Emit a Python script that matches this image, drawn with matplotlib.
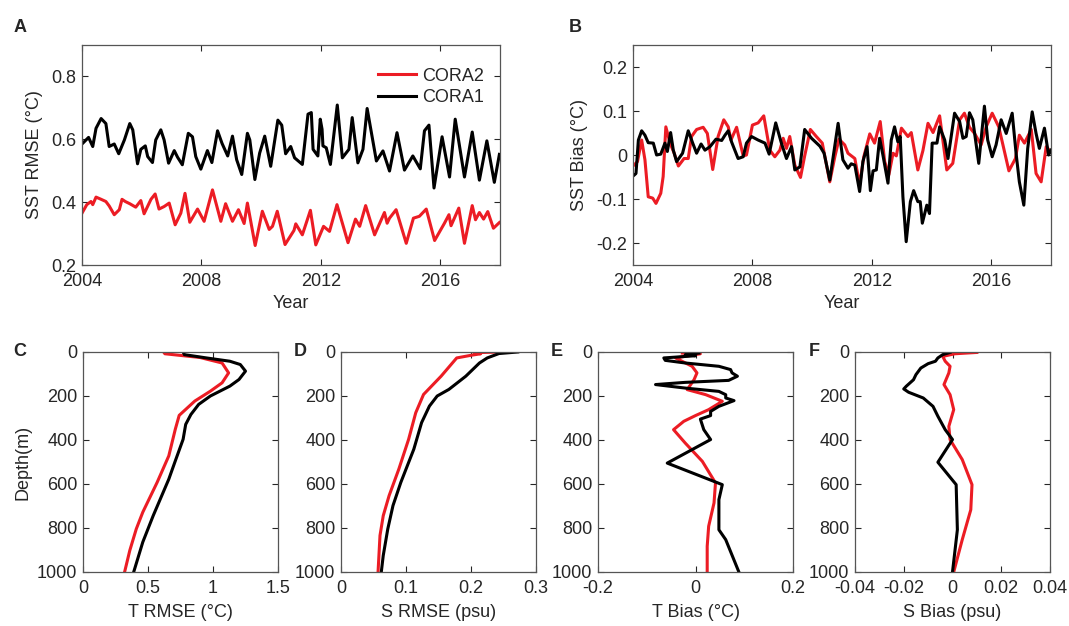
import matplotlib
matplotlib.use("Agg")
import matplotlib.pyplot as plt

plt.rcParams["font.family"] = ["Liberation Sans", "DejaVu Sans"]
plt.rcParams["font.size"] = 13
plt.rcParams["text.color"] = "#262626"
plt.rcParams["axes.labelcolor"] = "#262626"
plt.rcParams["xtick.color"] = "#262626"
plt.rcParams["ytick.color"] = "#262626"

RED = "#ec1c24"
BLACK = "black"

# ---- A: SST RMSE time series ----
a_cora1_yr = [2004.0, 2004.22, 2004.36, 2004.47, 2004.64, 2004.8, 2004.91, 2005.08, 2005.23, 2005.42,
              2005.6, 2005.7, 2005.86, 2005.97, 2006.12, 2006.2, 2006.36, 2006.47, 2006.64, 2006.75,
              2006.9, 2007.09, 2007.2, 2007.36, 2007.56, 2007.7, 2007.81, 2007.98, 2008.2, 2008.35,
              2008.54, 2008.69, 2008.88, 2009.04, 2009.18, 2009.35, 2009.54, 2009.62, 2009.79, 2009.95,
              2010.12, 2010.32, 2010.56, 2010.69, 2010.82, 2010.99, 2011.12, 2011.38, 2011.57, 2011.68,
              2011.74, 2011.9, 2011.98, 2012.04, 2012.07, 2012.18, 2012.32, 2012.55, 2012.72, 2012.94,
              2013.05, 2013.24, 2013.41, 2013.55, 2013.86, 2014.08, 2014.3, 2014.55, 2014.8, 2015.08,
              2015.33, 2015.47, 2015.62, 2015.79, 2016.06, 2016.31, 2016.5, 2016.81, 2017.07, 2017.31,
              2017.56, 2017.81, 2017.98]
a_cora1 = [0.585, 0.606, 0.577, 0.635, 0.666, 0.65, 0.577, 0.585, 0.554, 0.598,
           0.65, 0.63, 0.522, 0.568, 0.579, 0.545, 0.526, 0.598, 0.63, 0.598,
           0.524, 0.564, 0.543, 0.519, 0.619, 0.608, 0.545, 0.505, 0.564, 0.526,
           0.627, 0.587, 0.547, 0.61, 0.535, 0.488, 0.619, 0.598, 0.472, 0.556,
           0.61, 0.514, 0.661, 0.645, 0.554, 0.577, 0.541, 0.52, 0.68, 0.685,
           0.568, 0.547, 0.664, 0.632, 0.579, 0.573, 0.52, 0.709, 0.541, 0.568,
           0.669, 0.525, 0.568, 0.698, 0.531, 0.563, 0.499, 0.621, 0.502, 0.547,
           0.506, 0.627, 0.645, 0.445, 0.608, 0.48, 0.664, 0.48, 0.623, 0.47,
           0.595, 0.463, 0.552]

a_cora2_yr = [2004.0, 2004.16, 2004.3, 2004.36, 2004.47, 2004.64, 2004.8, 2004.91, 2005.08, 2005.25,
              2005.34, 2005.45, 2005.6, 2005.8, 2005.97, 2006.08, 2006.31, 2006.45, 2006.58, 2006.75,
              2006.92, 2007.12, 2007.31, 2007.45, 2007.61, 2007.87, 2008.09, 2008.37, 2008.65, 2008.81,
              2009.04, 2009.24, 2009.43, 2009.54, 2009.8, 2010.04, 2010.27, 2010.38, 2010.54, 2010.8,
              2011.1, 2011.16, 2011.38, 2011.65, 2011.83, 2012.09, 2012.29, 2012.54, 2012.91, 2013.16,
              2013.3, 2013.5, 2013.8, 2014.13, 2014.22, 2014.3, 2014.52, 2014.86, 2015.1, 2015.3,
              2015.53, 2015.81, 2016.14, 2016.29, 2016.36, 2016.62, 2016.81, 2017.07, 2017.18, 2017.31,
              2017.45, 2017.59, 2017.78, 2017.98]
a_cora2 = [0.365, 0.392, 0.402, 0.392, 0.416, 0.409, 0.402, 0.388, 0.36, 0.376,
           0.409, 0.402, 0.395, 0.384, 0.405, 0.363, 0.409, 0.426, 0.378, 0.386,
           0.397, 0.328, 0.365, 0.428, 0.336, 0.378, 0.339, 0.439, 0.339, 0.395,
           0.339, 0.376, 0.332, 0.397, 0.262, 0.371, 0.313, 0.323, 0.371, 0.265,
           0.31, 0.331, 0.296, 0.374, 0.264, 0.323, 0.307, 0.392, 0.271, 0.346,
           0.323, 0.389, 0.296, 0.367, 0.333, 0.349, 0.376, 0.269, 0.349, 0.355,
           0.378, 0.278, 0.333, 0.36, 0.325, 0.381, 0.269, 0.389, 0.344, 0.367,
           0.346, 0.37, 0.317, 0.335]

# ---- B: SST bias time series ----
b_cora1_yr = [2004.0, 2004.1, 2004.18, 2004.29, 2004.4, 2004.51, 2004.68, 2004.79, 2004.93, 2005.07,
              2005.15, 2005.26, 2005.35, 2005.46, 2005.66, 2005.85, 2006.0, 2006.13, 2006.28, 2006.41,
              2006.58, 2006.78, 2006.97, 2007.08, 2007.19, 2007.3, 2007.52, 2007.69, 2007.8, 2007.97,
              2008.19, 2008.42, 2008.56, 2008.78, 2008.97, 2009.14, 2009.31, 2009.42, 2009.59, 2009.75,
              2009.98, 2010.26, 2010.4, 2010.59, 2010.87, 2011.03, 2011.2, 2011.31, 2011.43, 2011.59,
              2011.7, 2011.84, 2011.95, 2012.04, 2012.15, 2012.26, 2012.37, 2012.54, 2012.65, 2012.76,
              2012.87, 2012.95, 2013.04, 2013.15, 2013.29, 2013.4, 2013.54, 2013.62, 2013.69, 2013.84,
              2013.93, 2014.02, 2014.18, 2014.27, 2014.44, 2014.55, 2014.77, 2014.94, 2015.05, 2015.16,
              2015.27, 2015.38, 2015.58, 2015.77, 2015.88, 2016.03, 2016.16, 2016.33, 2016.5, 2016.7,
              2016.83, 2016.94, 2017.09, 2017.22, 2017.37, 2017.5, 2017.61, 2017.78, 2017.92, 2018.0]
b_cora1 = [-0.048, -0.042, 0.034, 0.055, 0.045, 0.028, 0.027, 0.0, 0.002, 0.027,
           0.008, 0.051, 0.011, -0.015, 0.004, 0.055, 0.027, 0.004, 0.025, 0.011,
           0.019, 0.036, 0.033, 0.045, 0.055, 0.03, -0.008, -0.004, 0.027, 0.042,
           0.034, 0.027, 0.002, 0.073, 0.027, -0.008, 0.019, -0.034, -0.027, 0.058,
           0.038, 0.02, 0.004, -0.057, 0.072, -0.011, -0.03, -0.02, -0.023, -0.083,
           -0.015, 0.019, -0.081, -0.036, -0.034, 0.038, 0.0, -0.064, 0.034, 0.064,
           0.03, 0.042, -0.095, -0.197, -0.106, -0.081, -0.106, -0.106, -0.155, -0.114,
           -0.133, 0.027, 0.027, 0.064, 0.034, -0.008, 0.095, 0.076, 0.038, 0.042,
           0.096, 0.08, -0.019, 0.111, 0.034, -0.004, 0.023, 0.08, 0.049, 0.095,
           0.004, -0.061, -0.114, 0.015, 0.098, 0.049, 0.015, 0.061, 0.0, 0.011]

b_cora2_yr = [2004.0, 2004.15, 2004.29, 2004.4, 2004.51, 2004.66, 2004.77, 2004.93, 2005.01, 2005.1,
              2005.24, 2005.38, 2005.52, 2005.71, 2005.85, 2005.96, 2006.13, 2006.35, 2006.49, 2006.67,
              2006.85, 2007.04, 2007.19, 2007.28, 2007.47, 2007.69, 2007.8, 2008.0, 2008.19, 2008.38,
              2008.58, 2008.75, 2008.92, 2009.03, 2009.14, 2009.25, 2009.42, 2009.61, 2009.75, 2009.94,
              2010.14, 2010.34, 2010.59, 2010.76, 2010.9, 2011.09, 2011.2, 2011.43, 2011.59, 2011.73,
              2011.93, 2012.09, 2012.28, 2012.43, 2012.57, 2012.71, 2012.82, 2012.99, 2013.21, 2013.32,
              2013.54, 2013.71, 2013.88, 2014.05, 2014.27, 2014.51, 2014.71, 2014.94, 2015.1, 2015.27,
              2015.44, 2015.66, 2015.83, 2016.03, 2016.25, 2016.39, 2016.59, 2016.81, 2016.94, 2017.11,
              2017.34, 2017.5, 2017.67, 2017.84, 2017.98]
b_cora2 = [-0.025, -0.015, 0.034, -0.011, -0.095, -0.098, -0.11, -0.087, -0.049, 0.064,
           0.027, 0.004, -0.025, -0.008, -0.008, 0.042, 0.058, 0.063, 0.049, -0.033,
           0.042, 0.08, 0.064, 0.034, 0.063, -0.002, 0.0, 0.068, 0.073, 0.089,
           0.011, -0.004, 0.011, 0.038, 0.015, 0.042, -0.023, -0.051, -0.002, 0.058,
           0.042, 0.027, -0.061, -0.004, 0.036, 0.023, 0.004, -0.008, -0.068, -0.004,
           0.048, 0.027, 0.076, -0.015, -0.045, 0.004, -0.002, 0.061, 0.042, 0.051,
           -0.034, 0.01, 0.072, 0.051, 0.089, -0.034, -0.019, 0.08, 0.095, 0.063,
           0.049, 0.023, 0.064, 0.095, 0.064, 0.023, -0.036, -0.008, 0.045, 0.027,
           0.058, -0.042, -0.061, 0.019, 0.008]

# ---- C: T RMSE profiles ----
c_cora2_depth = [0, 8, 25, 50, 95, 140, 178, 223, 288, 351, 472, 593, 728, 804, 902, 1000]
c_cora2 = [0.62, 0.63, 0.9, 1.07, 1.12, 1.07, 0.98, 0.86, 0.74, 0.71, 0.66, 0.57, 0.46, 0.41, 0.36, 0.32]
c_cora1_depth = [0, 12, 27, 42, 57, 87, 125, 155, 200, 238, 284, 329, 397, 495, 578, 744, 864, 1000]
c_cora1 = [0.77, 0.78, 0.95, 1.13, 1.21, 1.25, 1.2, 1.13, 0.98, 0.89, 0.83, 0.79, 0.77, 0.71, 0.66, 0.54, 0.46, 0.39]

# ---- D: S RMSE profiles ----
d_cora2_depth = [0, 3, 8, 15, 27, 110, 193, 276, 397, 532, 653, 744, 834, 1000]
d_cora2 = [0.245, 0.205, 0.215, 0.2, 0.178, 0.154, 0.127, 0.115, 0.104, 0.089, 0.074, 0.065, 0.06, 0.057]
d_cora1_depth = [0, 7, 27, 50, 110, 170, 200, 246, 321, 442, 593, 698, 804, 925, 1000]
d_cora1 = [0.272, 0.243, 0.225, 0.213, 0.192, 0.166, 0.148, 0.136, 0.124, 0.112, 0.092, 0.08, 0.072, 0.065, 0.062]

# ---- E: T bias profiles ----
e_cora2_depth = [5, 8, 27, 65, 95, 126, 171, 194, 224, 262, 289, 315, 353, 414, 497, 595, 686, 792, 883, 1000]
e_cora2 = [-0.027, 0.01, -0.041, -0.007, 0.003, -0.003, -0.017, 0.021, 0.055, 0.027,
           0.0, -0.024, -0.045, -0.021, 0.014, 0.041, 0.038, 0.027, 0.024, 0.024]
e_cora1_depth = [5, 12, 17, 27, 38, 50, 65, 80, 95, 110, 129, 138, 148, 164, 179, 194, 209, 221,
                 247, 270, 289, 305, 353, 398, 505, 603, 671, 808, 853, 1000]
e_cora1 = [0.007, -0.021, 0.0, -0.065, -0.062, -0.021, 0.048, 0.072, 0.075, 0.086, 0.068, -0.021,
           -0.082, -0.021, 0.048, 0.062, 0.062, 0.079, 0.048, 0.031, 0.031, 0.01, 0.017, 0.031,
           -0.058, 0.055, 0.048, 0.048, 0.062, 0.089]

# ---- F: S bias profiles ----
f_cora2_depth = [2, 8, 20, 42, 65, 95, 148, 194, 262, 338, 398, 489, 603, 717, 853, 1000]
f_cora2 = [0.01, 0.001, -0.004, -0.003, -0.001, -0.0015, -0.0035, -0.001, 0.0005, -0.0015,
           -0.001, 0.004, 0.008, 0.0075, 0.004, 0.0005]
f_cora1_depth = [2, 12, 27, 42, 53, 73, 88, 103, 126, 156, 168, 183, 209, 247, 292, 353, 398,
                 501, 603, 808, 1000]
f_cora1 = [-0.001, -0.004, -0.006, -0.007, -0.01, -0.013, -0.014, -0.015, -0.016, -0.019, -0.02,
           -0.018, -0.012, -0.008, -0.006, -0.003, 0.0, -0.006, 0.0015, 0.002, 0.0]


def style(ax):
    ax.tick_params(direction="in", top=True, right=True, length=4, width=0.8, labelsize=13)
    ax.tick_params(axis="x", pad=6)
    ax.tick_params(axis="y", pad=4)
    for s in ax.spines.values():
        s.set_color("#555555")
        s.set_linewidth(0.9)


fig = plt.figure(figsize=(10.69, 6.26), dpi=100)
W, H = 1069, 626


def add_axes(left, top, width, height):
    return fig.add_axes([left / W, 1 - (top + height) / H, width / W, height / H])


# A
axA = add_axes(82, 45, 418, 220)
axA.plot(a_cora2_yr, a_cora2, color=RED, lw=2.2, label="CORA2")
axA.plot(a_cora1_yr, a_cora1, color=BLACK, lw=2.2, label="CORA1")
axA.set_xlim(2004, 2018)
axA.set_ylim(0.2, 0.9)
axA.set_xticks([2004, 2008, 2012, 2016])
axA.set_yticks([0.2, 0.4, 0.6, 0.8])
axA.set_xlabel("Year", fontsize=13, labelpad=3)
axA.set_ylabel("SST RMSE (°C)", fontsize=13, labelpad=6)
axA.legend(loc="upper right", bbox_to_anchor=(0.98, 0.93), frameon=False, fontsize=13,
           handlelength=2.1, borderaxespad=0, labelspacing=0.25, handletextpad=0.35)
style(axA)

# B
axB = add_axes(633, 45, 418, 220)
axB.plot(b_cora2_yr, b_cora2, color=RED, lw=2.2)
axB.plot(b_cora1_yr, b_cora1, color=BLACK, lw=2.2)
axB.set_xlim(2004, 2018)
axB.set_ylim(-0.25, 0.25)
axB.set_xticks([2004, 2008, 2012, 2016])
axB.set_yticks([-0.2, -0.1, 0, 0.1, 0.2])
axB.set_yticklabels(["-0.2", "-0.1", "0", "0.1", "0.2"])
axB.set_xlabel("Year", fontsize=13, labelpad=3)
axB.set_ylabel("SST Bias (°C)", fontsize=13, labelpad=6)
style(axB)

# C-F profiles
prof = [
    (83, c_cora2, c_cora2_depth, c_cora1, c_cora1_depth, (0, 1.5), [0, 0.5, 1, 1.5],
     ["0", "0.5", "1", "1.5"], "T RMSE (°C)"),
    (341, d_cora2, d_cora2_depth, d_cora1, d_cora1_depth, (0, 0.3), [0, 0.1, 0.2, 0.3],
     ["0", "0.1", "0.2", "0.3"], "S RMSE (psu)"),
    (598, e_cora2, e_cora2_depth, e_cora1, e_cora1_depth, (-0.2, 0.2), [-0.2, 0, 0.2],
     ["-0.2", "0", "0.2"], "T Bias (°C)"),
    (855, f_cora2, f_cora2_depth, f_cora1, f_cora1_depth, (-0.04, 0.04),
     [-0.04, -0.02, 0, 0.02, 0.04], ["-0.04", "-0.02", "0", "0.02", "0.04"], "S Bias (psu)"),
]
for i, (left, x2, d2, x1, d1, xl, xt, xtl, lab) in enumerate(prof):
    ax = add_axes(left, 352, 195, 220)
    ax.plot(x2, d2, color=RED, lw=2.2)
    ax.plot(x1, d1, color=BLACK, lw=2.2)
    ax.set_xlim(*xl)
    ax.set_ylim(1000, 0)
    ax.set_xticks(xt)
    ax.set_xticklabels(xtl)
    ax.set_yticks([0, 200, 400, 600, 800, 1000])
    ax.set_xlabel(lab, fontsize=13, labelpad=5)
    if i == 0:
        ax.set_ylabel("Depth(m)", fontsize=13, labelpad=4)
    style(ax)

# panel letters
for txt, x, y in [("A", 14, 27), ("B", 569, 27), ("C", 13, 352), ("D", 294, 352),
                  ("E", 551, 352), ("F", 809, 352)]:
    fig.text(x / W, 1 - y / H, txt, fontsize=13, fontweight="bold", va="center", ha="left")

fig.savefig("out.png", dpi=100)
